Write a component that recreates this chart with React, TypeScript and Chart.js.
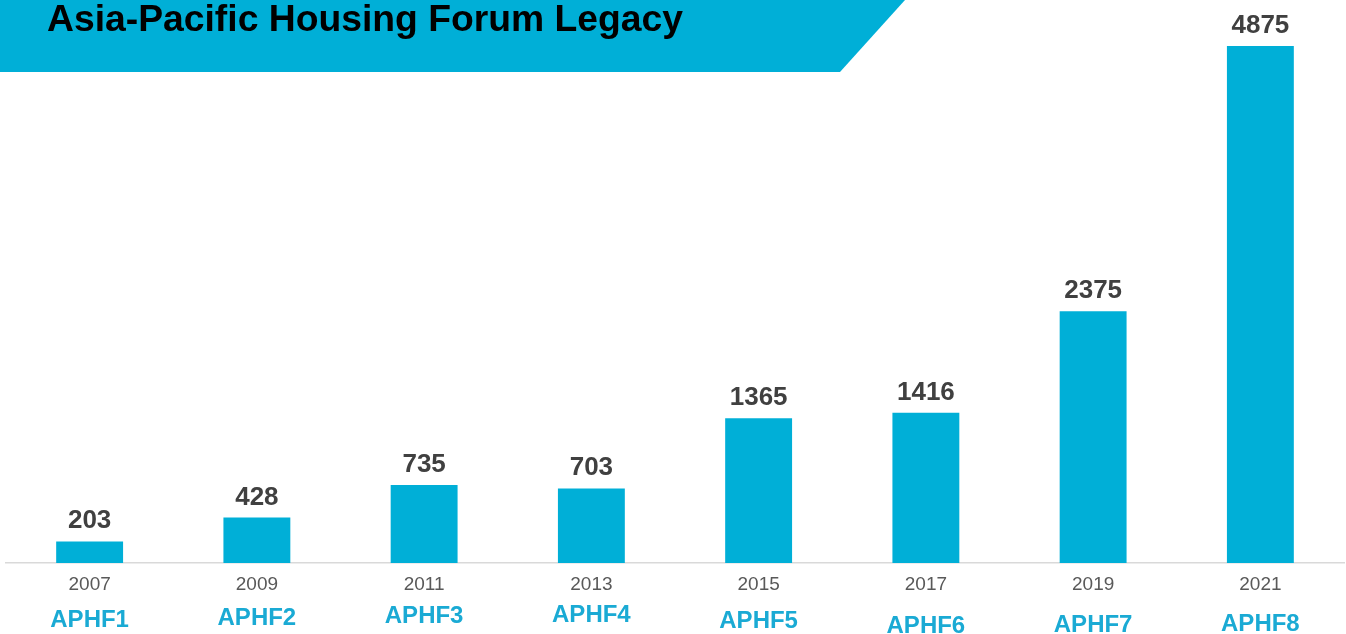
import React, { useEffect, useRef } from 'react';
import { Chart, registerables } from 'chart.js';

Chart.register(...registerables);

const years = ['2007', '2009', '2011', '2013', '2015', '2017', '2019', '2021'];
const forums = ['APHF1', 'APHF2', 'APHF3', 'APHF4', 'APHF5', 'APHF6', 'APHF7', 'APHF8'];
const attendees = [203, 428, 735, 703, 1365, 1416, 2375, 4875];
const titleText = 'Asia-Pacific Housing Forum Legacy';

const CYAN = '#00AFD7';
const FONT = '"Liberation Sans", Arial, Helvetica, sans-serif';

const forumLabelShift = [0, -2, -4, -5, 1, 6, 5, 4];

const decorPlugin = {
  id: 'decor',
  beforeDraw(chart: any) {
    const ctx = chart.ctx;
    ctx.save();
    ctx.fillStyle = CYAN;
    ctx.beginPath();
    ctx.moveTo(0, 0);
    ctx.lineTo(905, 0);
    ctx.lineTo(840, 72);
    ctx.lineTo(0, 72);
    ctx.closePath();
    ctx.fill();
    ctx.fillStyle = '#000000';
    ctx.font = `bold 37px ${FONT}`;
    ctx.textAlign = 'left';
    ctx.textBaseline = 'alphabetic';
    const w = ctx.measureText(titleText).width;
    ctx.translate(47, 31);
    ctx.scale(636 / w, 1);
    ctx.fillText(titleText, 0, 0);
    ctx.restore();
  },
  afterDatasetsDraw(chart: any) {
    const ctx = chart.ctx;
    const meta = chart.getDatasetMeta(0);
    const xScale = chart.scales.x;
    ctx.save();
    ctx.textAlign = 'center';
    ctx.textBaseline = 'alphabetic';
    ctx.font = `bold 26px ${FONT}`;
    ctx.fillStyle = '#404040';
    meta.data.forEach((bar: any, i: number) => {
      ctx.fillText(String(attendees[i]), bar.x, bar.y - 13);
    });
    ctx.font = `bold 24px ${FONT}`;
    ctx.fillStyle = '#1AAAD4';
    ctx.textBaseline = 'middle';
    forums.forEach((f, i) => {
      const x = xScale.getPixelForValue(i);
      ctx.fillText(f, x, 620 + forumLabelShift[i]);
    });
    ctx.restore();
  },
};

export default function App() {
  const ref = useRef<HTMLCanvasElement>(null);
  useEffect(() => {
    if (!ref.current) return;
    const chart = new Chart(ref.current, {
      type: 'bar',
      data: {
        labels: years,
        datasets: [
          {
            data: attendees,
            backgroundColor: CYAN,
            borderWidth: 0,
            barPercentage: 0.4,
            categoryPercentage: 1,
          },
        ],
      },
      options: {
        animation: false,
        responsive: false,
        maintainAspectRatio: false,
        layout: { padding: { top: 46, left: 6, right: 2, bottom: 0 } },
        plugins: { legend: { display: false }, tooltip: { enabled: false } },
        scales: {
          x: {
            grid: { display: false, drawTicks: false },
            border: { display: true, color: '#D9D9D9', width: 1.5 },
            ticks: {
              color: '#595959',
              font: { family: FONT, size: 19 },
              padding: 10,
              maxRotation: 0,
            },
            afterFit: (scale: any) => {
              scale.height = 71;
            },
          },
          y: {
            display: false,
            min: 0,
            max: 4875,
          },
        },
      },
      plugins: [decorPlugin],
    });
    return () => chart.destroy();
  }, []);
  return (
    <div style={{ position: 'fixed', left: 0, top: 0, width: 1346, height: 634, background: '#fff' }}>
      <canvas ref={ref} width={1346} height={634} style={{ display: 'block', width: 1346, height: 634 }} />
    </div>
  );
}
